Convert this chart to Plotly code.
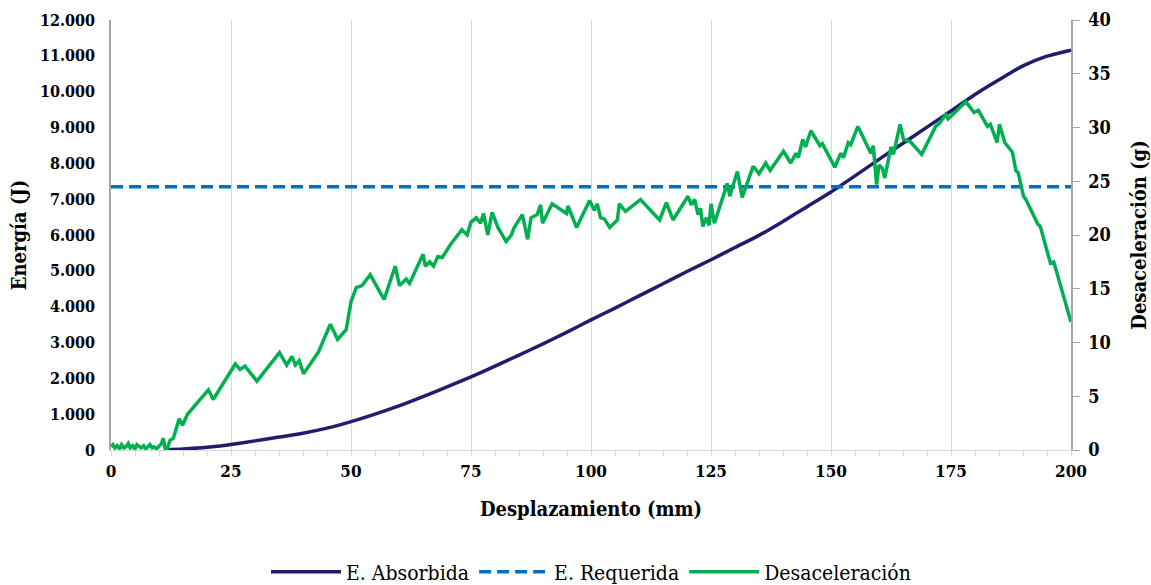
import plotly.graph_objects as go

# Displacement (mm) and absorbed energy (J)
disp_energy = [11, 15, 20, 25, 30, 35, 40, 45, 50, 55, 60, 65, 70, 75, 80, 85, 90, 95,
               100, 105, 110, 115, 120, 125, 130, 135, 140, 145, 150, 155, 160, 165,
               170, 175, 180, 185, 190, 195, 200]
energy_absorbed = [0, 25, 75, 155, 255, 360, 470, 610, 790, 1000, 1230, 1490, 1760, 2040,
                   2340, 2650, 2960, 3290, 3630, 3960, 4300, 4640, 4980, 5310, 5650, 5990,
                   6380, 6790, 7200, 7650, 8110, 8560, 9010, 9460, 9920, 10330, 10720,
                   10990, 11160]

# Required energy (J), constant over the stroke
disp_required = [0, 200]
energy_required = [7350, 7350]

# Displacement (mm) and deceleration (g)
disp_decel = [0, 0.4, 0.8, 1.3, 1.8, 2.2, 2.7, 3.1, 3.6, 4.0, 4.5, 5.0, 5.4, 5.9, 6.3, 6.8,
              7.2, 7.7, 8.1, 8.6, 9.0, 9.5, 10.0, 10.5, 10.9, 11.2, 11.6, 12.3, 13.0, 14.2,
              14.9, 15.9, 18.0, 20.3, 21.3, 23.5, 25.9, 26.9, 27.9, 30.4, 35.1, 36.6, 37.7,
              38.4, 39.2, 40.1, 42.6, 43.2, 45.7, 47.2, 49.0, 50.0, 51.1, 52.3, 54.0, 56.9,
              59.2, 60.1, 61.5, 62.2, 65.0, 65.5, 66.4, 67.2, 68.1, 69.0, 70.7, 73.1, 74.2,
              75.0, 76.1, 77.0, 77.6, 78.5, 79.4, 80.6, 82.3, 83.4, 84.0, 85.7, 86.8, 87.5,
              88.8, 89.5, 89.9, 91.9, 94.9, 95.2, 97.0, 99.7, 100.7, 101.3, 102.0, 102.8,
              103.9, 105.5, 105.9, 107.2, 110.3, 114.3, 115.7, 117.1, 120.2, 120.9, 121.6,
              122.3, 122.8, 123.3, 124.0, 124.6, 125.0, 125.7, 128.4, 128.9, 130.5, 131.5,
              133.8, 135.0, 136.4, 137.3, 140.1, 141.6, 142.7, 143.2, 144.1, 144.7, 145.8,
              147.7, 148.2, 150.8, 152.0, 152.6, 153.6, 154.1, 155.6, 158.3, 158.8, 159.5,
              160.0, 160.7, 161.2, 162.5, 163.0, 164.4, 165.1, 166.5, 168.9, 171.8, 172.6,
              173.9, 174.4, 178.1, 179.8, 180.7, 182.6, 183.2, 184.6, 185.1, 186.2, 187.8,
              188.5, 189.0, 190.1, 190.6, 193.1, 193.6, 195.7, 196.4, 200.0]
deceleration = [0.3, 0.5, 0.2, 0.4, 0.1, 0.5, 0.2, 0.3, 0.6, 0.2, 0.4, 0.1, 0.5, 0.3, 0.2, 0.4,
                0.1, 0.3, 0.5, 0.2, 0.3, 0.1, 0.4, 0.6, 1.1, 0.3, 0.0, 0.9, 1.1, 2.9,
                2.3, 3.3, 4.4, 5.6, 4.7, 6.3, 8.0, 7.5, 7.8, 6.4, 9.05, 7.9, 8.7,
                7.9, 8.3, 7.1, 8.7, 9.1, 11.7, 10.3, 11.2, 13.8, 15.1, 15.3, 16.3, 14.0,
                17.1, 15.3, 15.9, 15.5, 18.2, 17.1, 17.5, 17.1, 18.0, 17.9, 19.1, 20.5, 20.0,
                21.2, 21.6, 21.1, 22.0, 20.0, 22.1, 20.7, 19.4, 20.0, 20.7, 21.9, 19.6, 21.6,
                21.9, 22.8, 21.1, 22.9, 22.0, 22.7, 20.7, 23.2, 22.3, 22.9, 21.6, 21.5,
                20.7, 21.4, 22.9, 22.2, 23.3, 21.4, 23.0, 21.4, 23.6, 22.8, 23.3,
                21.9, 22.5, 20.8, 21.6, 20.9, 22.9, 21.1, 24.8, 23.6, 25.9, 23.5,
                26.4, 25.7, 26.7, 26.0, 27.8, 26.7, 27.6, 27.2, 28.9, 28.2, 29.7,
                28.3, 28.5, 26.3, 27.6, 27.2, 28.6, 28.4, 30.1, 27.6, 28.3, 24.7,
                26.5, 26.2, 25.3, 28.2, 27.5, 30.3, 28.9, 28.7, 27.5, 30.1, 30.4,
                31.2, 30.8, 32.4, 31.4, 31.6, 30.1, 30.3, 28.6, 30.3, 28.6, 27.7,
                26.0, 25.8, 23.6, 23.3, 21.0, 20.8, 17.4, 17.5, 11.9]

x_ticks = [0, 25, 50, 75, 100, 125, 150, 175, 200]

serif = "DejaVu Serif Condensed, DejaVu Serif"
axis_grey = "#A6A6A6"
grid_grey = "#D9D9D9"

fig = go.Figure()

fig.add_trace(go.Scatter(
    x=disp_energy, y=energy_absorbed, name="E. Absorbida", mode="lines",
    line=dict(color="#211D6E", width=3.5, shape="spline", smoothing=0.6),
    yaxis="y"))

fig.add_trace(go.Scatter(
    x=disp_required, y=energy_required, name="E. Requerida", mode="lines",
    line=dict(color="#0070C0", width=3.5, dash="12px,6px"),
    yaxis="y"))

fig.add_trace(go.Scatter(
    x=disp_decel, y=deceleration, name="Desaceleración", mode="lines",
    line=dict(color="#00B050", width=3.5, shape="linear"),
    yaxis="y2"))

fig.update_layout(
    width=1151, height=585,
    margin=dict(l=111, r=80, t=20, b=135, autoexpand=False),
    paper_bgcolor="white", plot_bgcolor="white",
    separators=",.",
    font=dict(family=serif, color="black"),
    xaxis=dict(
        range=[0, 200], tickvals=x_ticks, automargin=False,
        showgrid=True, gridcolor=grid_grey, gridwidth=1.3,
        showline=True, linecolor=grid_grey, linewidth=1.3,
        ticks="outside", ticklen=5, tickcolor=grid_grey,
        minor=dict(dtick=5, ticks="outside", ticklen=5, tickcolor=grid_grey, showgrid=False),
        tickfont=dict(size=17, family=serif, weight="bold"),
        title=dict(text="<b>Desplazamiento (mm)</b>", font=dict(size=20, family=serif),
                   standoff=22),
        zeroline=False,
    ),
    yaxis=dict(
        range=[0, 12000], dtick=1000, tickformat=",d", automargin=False,
        showgrid=False, zeroline=False,
        showline=True, linecolor=axis_grey, linewidth=1.5,
        ticks="", ticklabelstandoff=11,
        tickfont=dict(size=16, family=serif, weight="bold"),
        title=dict(text="<b>Energía (J)</b>", font=dict(size=20, family=serif), standoff=8),
    ),
    yaxis2=dict(
        range=[0, 40], dtick=5, overlaying="y", side="right", automargin=False,
        showgrid=False, zeroline=False,
        showline=True, linecolor=axis_grey, linewidth=1.5,
        ticks="outside", ticklen=7, tickcolor=axis_grey, ticklabelstandoff=5,
        tickfont=dict(size=18, family=serif, weight="bold"),
        title=dict(text="<b>Desaceleración (g)</b>", font=dict(size=20, family=serif),
                   standoff=26),
    ),
    legend=dict(
        orientation="h", x=0.5, xanchor="center", y=-0.284, yanchor="middle",
        font=dict(size=21, family=serif), itemwidth=70, tracegroupgap=0,
        bgcolor="rgba(0,0,0,0)",
    ),
    showlegend=True,
)

fig.write_html("out.html")
